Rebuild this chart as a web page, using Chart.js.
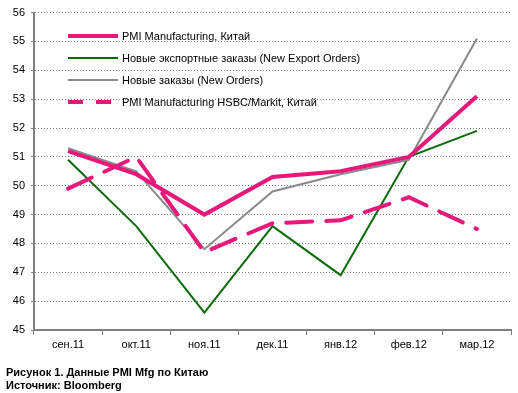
<!DOCTYPE html>
<html><head><meta charset="utf-8">
<script src="https://cdn.jsdelivr.net/npm/chart.js@4"></script>
<style>
html,body{margin:0;padding:0;background:#fff;}
#wrap{position:relative;width:518px;height:393px;}
#cap{position:absolute;left:6px;top:366px;font:bold 11px "Liberation Sans",Arial,sans-serif;line-height:13px;color:#000;}
</style></head>
<body>
<div id="wrap"><canvas id="c" width="518" height="393"></canvas>
<div id="cap">Рисунок 1. Данные PMI Mfg по Китаю<br>Источник: Bloomberg</div></div>
<script>
const categories = ['сен.11','окт.11','ноя.11','дек.11','янв.12','фев.12','мар.12'];
const pmiOfficial = [51.2, 50.4, 49.0, 50.3, 50.5, 51.0, 53.1];
const exportOrders = [50.9, 48.6, 45.6, 48.6, 46.9, 51.0, 51.9];
const newOrders = [51.3, 50.5, 47.8, 49.8, 50.4, 50.9, 55.1];
const pmiHsbc = [49.9, 51.0, 47.7, 48.7, 48.8, 49.6, 48.5];
const seriesNames = ['PMI Manufacturing, Китай','Новые экспортные заказы (New Export Orders)','Новые заказы (New Orders)','PMI Manufacturing HSBC/Markit, Китай'];
const yMin = 45, yMax = 56, yStep = 1;

const PINK = '#E6197A', GREEN = '#0B6B0B', GRAY = '#8A8A8A';
const FONT = '"Liberation Sans", Arial, sans-serif';

new Chart(document.getElementById('c'), {
  type: 'line',
  data: {
    labels: categories,
    datasets: [
      {label: seriesNames[1], data: exportOrders, borderColor: GREEN, borderWidth: 2, pointRadius: 0, tension: 0, order: 3},
      {label: seriesNames[2], data: newOrders, borderColor: GRAY, borderWidth: 2, pointRadius: 0, tension: 0, order: 2},
      {label: seriesNames[3], data: pmiHsbc, borderColor: PINK, borderWidth: 4, borderDash: [26, 14], borderCapStyle: 'round', pointRadius: 0, tension: 0, order: 1},
      {label: seriesNames[0], data: pmiOfficial, borderColor: PINK, borderWidth: 4, pointRadius: 0, tension: 0, order: 0}
    ]
  },
  options: {
    responsive: false,
    animation: false,
    devicePixelRatio: 1,
    layout: {padding: {left: 0, right: 7, top: 6, bottom: 38}},
    plugins: {legend: {display: false}, tooltip: {enabled: false}},
    scales: {
      x: {
        offset: true,
        grid: {offset: true, drawOnChartArea: false, drawTicks: true, tickLength: 5, color: '#808080', tickColor: '#808080'},
        border: {color: '#808080', width: 2},
        ticks: {color: '#000', font: {family: FONT, size: 11}, padding: 3, maxRotation: 0},
        afterFit(s) { s.height = 25; }
      },
      y: {
        min: yMin, max: yMax,
        ticks: {stepSize: yStep, color: '#000', font: {family: FONT, size: 11}, padding: 6},
        grid: {color: '#808080', lineWidth: 1, drawTicks: true, tickLength: 3, tickColor: '#808080', tickBorderDash: []},
        border: {color: '#808080', width: 2, dash: [1, 2]},
        afterFit(s) { s.width = 34; }
      }
    }
  },
  plugins: [{
    id: 'innerLegend',
    afterDatasetsDraw(chart) {
      const order = [3, 0, 1, 2];
      const ctx = chart.ctx;
      const x0 = chart.chartArea.left + 34, x1 = x0 + 50, tx = x1 + 4;
      const rows = [36, 58, 80, 102];
      order.forEach((di, i) => {
        const ds = chart.data.datasets[di];
        const y = rows[i];
        ctx.save();
        ctx.strokeStyle = ds.borderColor;
        ctx.lineWidth = ds.borderWidth;
        if (ds.borderDash) ctx.setLineDash([15, 13]);
        ctx.beginPath(); ctx.moveTo(x0, y); ctx.lineTo(x1, y); ctx.stroke();
        ctx.setLineDash([]);
        ctx.fillStyle = '#000';
        ctx.font = '11px ' + FONT;
        ctx.textBaseline = 'middle';
        ctx.fillText(ds.label, tx, y + 0.5);
        ctx.restore();
      });
    }
  }]
});
</script>
</body></html>
